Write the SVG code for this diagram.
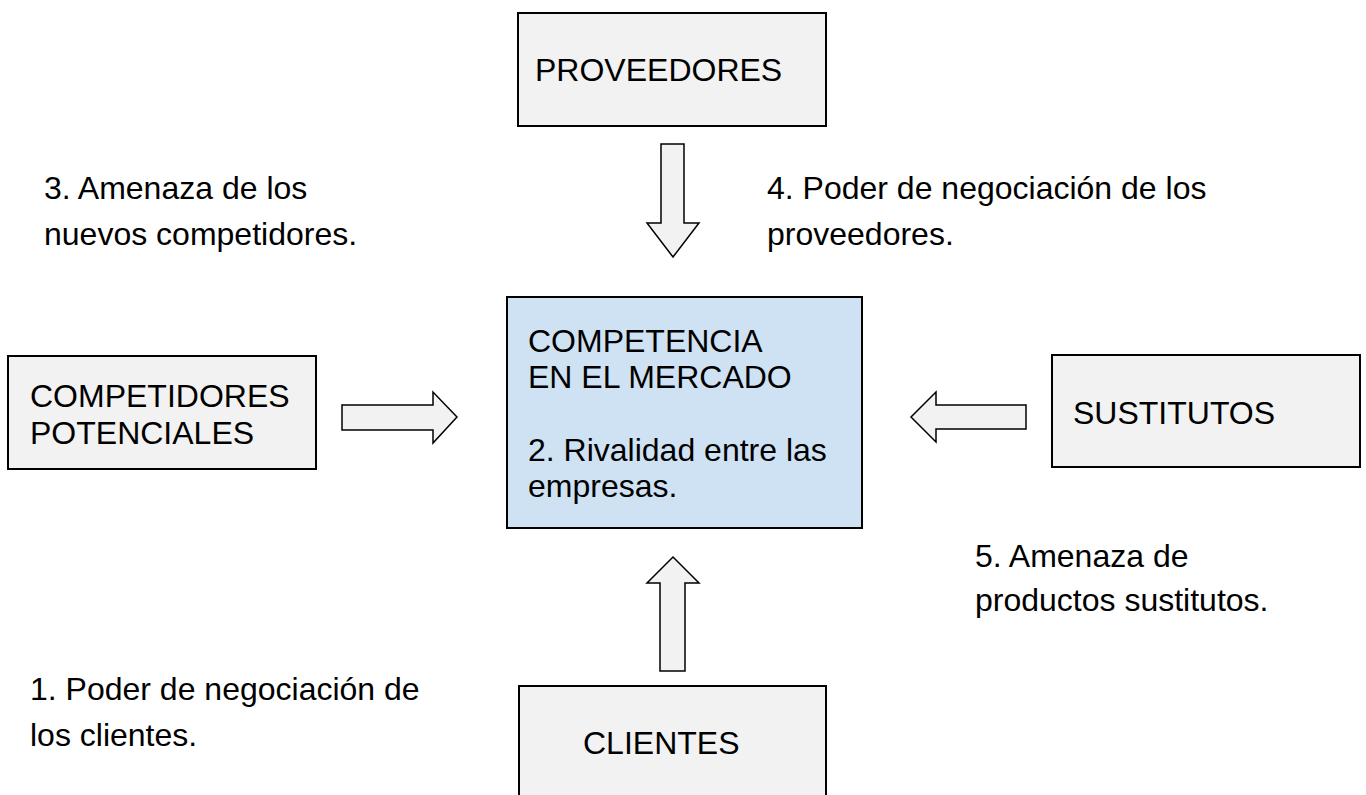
<svg xmlns="http://www.w3.org/2000/svg" width="1366" height="795" viewBox="0 0 1366 795">
<style>
.box{fill:#f2f2f2;stroke:#000;stroke-width:2}
.center{fill:#cfe2f3;stroke:#000;stroke-width:2}
.arr{fill:#f2f2f2;stroke:#000;stroke-width:1.5;stroke-linejoin:miter}
text{font-family:"Liberation Sans",Arial,sans-serif;font-size:32px;fill:#000}
</style>
<rect width="1366" height="795" fill="#fff"/>
<g id="proveedores">
<rect class="box" x="518" y="13" width="308" height="113"/>
<text x="535" y="81">PROVEEDORES</text>
</g>
<g id="competidores">
<rect class="box" x="8" y="356" width="308" height="113"/>
<text x="30" y="407">COMPETIDORES</text>
<text x="30" y="444">POTENCIALES</text>
</g>
<g id="competencia">
<rect class="center" x="507" y="297" width="355" height="231"/>
<text x="528" y="352">COMPETENCIA</text>
<text x="528" y="388">EN EL MERCADO</text>
<text x="528" y="461">2. Rivalidad entre las</text>
<text x="528" y="497">empresas.</text>
</g>
<g id="sustitutos">
<rect class="box" x="1052" y="355" width="308" height="112"/>
<text x="1073" y="424">SUSTITUTOS</text>
</g>
<g id="clientes">
<rect class="box" x="519" y="686" width="307" height="130"/>
<text x="583" y="754">CLIENTES</text>
</g>
<g id="connectors">
<polygon class="arr" points="661,144 684,144 684,223 699,223 673,257 647,223 661,223"/>
<polygon class="arr" points="342,405 433,405 433,392 457,417 433,443 433,430 342,430"/>
<polygon class="arr" points="1026,405 936,405 936,392 911,417 936,442 936,429 1026,429"/>
<polygon class="arr" points="660,671 685,671 685,583 699,583 673,557 647,583 660,583"/>
</g>
<g id="labels">
<text x="44" y="199">3. Amenaza de los</text>
<text x="44" y="245">nuevos competidores.</text>
<text x="767" y="199">4. Poder de negociación de los</text>
<text x="767" y="245">proveedores.</text>
<text x="975" y="567">5. Amenaza de</text>
<text x="975" y="611">productos sustitutos.</text>
<text x="30" y="700">1. Poder de negociación de</text>
<text x="30" y="746">los clientes.</text>
</g>
</svg>
